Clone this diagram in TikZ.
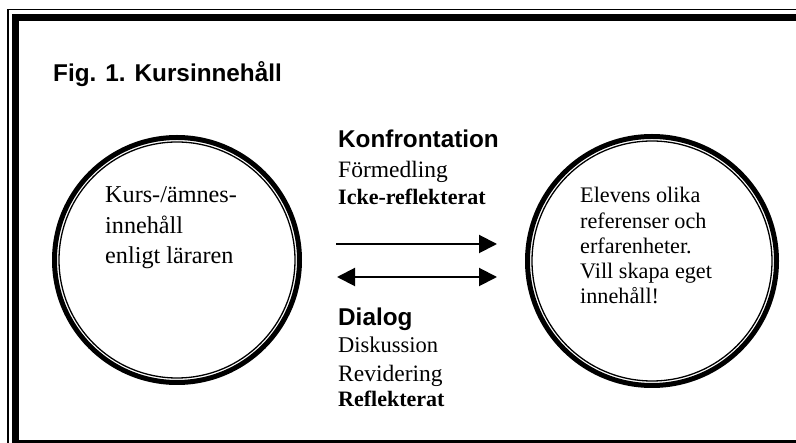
\documentclass[tikz,border=0pt]{standalone}
\usepackage{fontspec}
\setmainfont{Liberation Serif}
\newfontfamily\arial{Liberation Sans}
\usetikzlibrary{arrows.meta}
\tikzset{
  ring/.style={circle, draw, line width=5pt, inner sep=0pt},
  ringinner/.style={line width=1.3pt},
  blocktext/.style={anchor=base west, inner sep=0pt},
  headsans/.style={anchor=base west, inner sep=0pt, font=\arial\bfseries\fontsize{24.3}{29}\selectfont},
  serifline/.style={anchor=base west, inner sep=0pt, font=\fontsize{23.5}{28}\selectfont},
  serifbold/.style={anchor=base west, inner sep=0pt, font=\bfseries\fontsize{22}{26}\selectfont},
  arr/.style={line width=2pt, -{Triangle[length=18pt,width=18pt]}},
  darr/.style={line width=2pt, {Triangle[length=18pt,width=18pt]}-{Triangle[length=18pt,width=18pt]}},
}
\begin{document}
\begin{tikzpicture}[x=1pt,y=-1pt]
\useasboundingbox (0,0) rectangle (796,443);
\clip (0,0) rectangle (796,443);
% frame
\draw[line width=1.2pt] (8,9.5) rectangle (812,452);
\draw[line width=7.5pt] (15.5,17.3) rectangle (806,443.8);
% title
\node[headsans] (title) at (53,82) {Fig. 1. Kursinnehåll};
% circles
\node[ring, minimum size=245pt] (kurs) at (177,260) {};
\draw[ringinner] (kurs.center) circle (118pt);
\node[ring, minimum size=249pt] (elev) at (652,261) {};
\draw[ringinner] (elev.center) circle (120pt);
% circle texts
\node[blocktext] (kurstext) at (105,203)
  {\fontsize{24.2}{30.5}\selectfont\begin{tabular}[t]{@{}l@{}}Kurs-/ämnes-\\innehåll\\enligt läraren\end{tabular}};
\node[blocktext] (elevtext) at (580,203)
  {\fontsize{22.2}{25.2}\selectfont\begin{tabular}[t]{@{}l@{}}Elevens olika\\referenser och\\erfarenheter.\\Vill skapa eget\\innehåll!\end{tabular}};
% middle texts
\node[headsans] (konf) at (338,148) {Konfrontation};
\node[serifline] (form) at (338,178) {Förmedling};
\node[serifbold] (icke) at (338,205) {Icke-reflekterat};
\node[headsans] (dial) at (338,326) {Dialog};
\node[serifline, font=\fontsize{22.5}{28}\selectfont] (disk) at (338,353) {Diskussion};
\node[serifline] (revi) at (338,382) {Revidering};
\node[serifbold] (refl) at (338,407) {Reflekterat};
% arrows
\coordinate (a1s) at (336,244);
\coordinate (a1e) at (497,244);
\coordinate (a2s) at (337,277);
\coordinate (a2e) at (497,277);
\draw[arr] (a1s) -- (a1e);
\draw[darr] (a2s) -- (a2e);
\end{tikzpicture}
\end{document}
